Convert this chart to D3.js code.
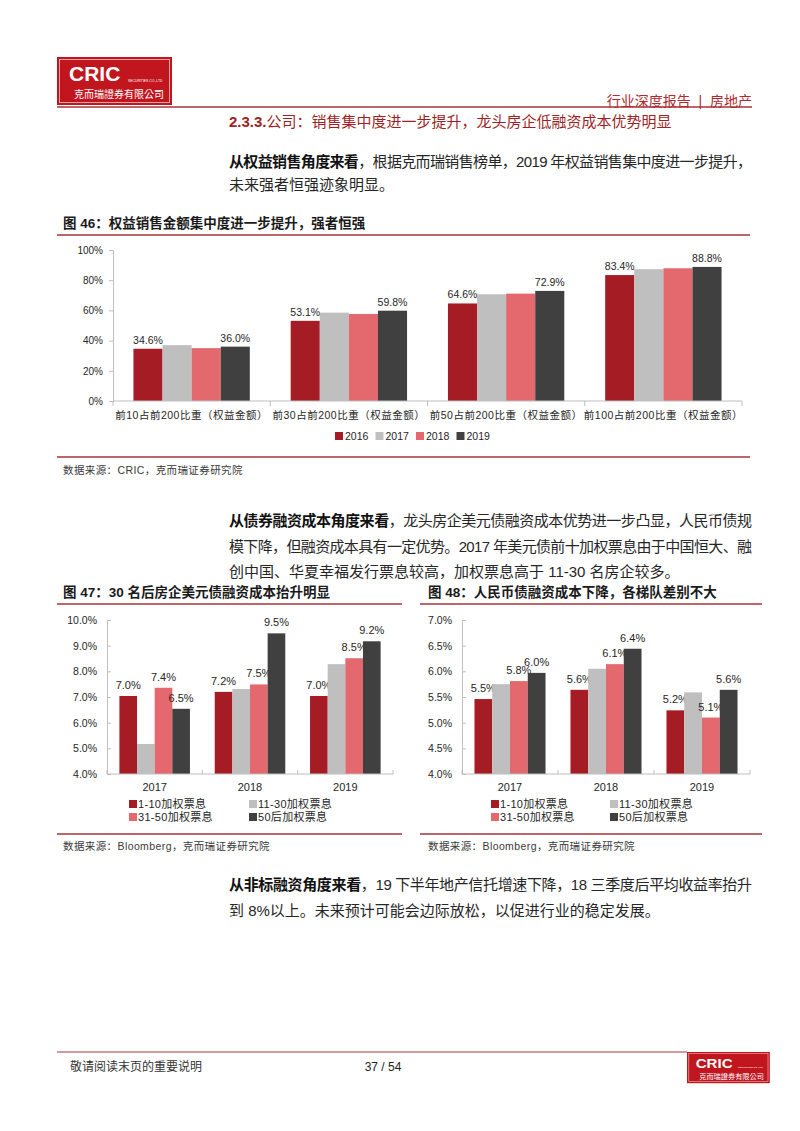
<!DOCTYPE html>
<html>
<head>
<meta charset="utf-8">
<script src="https://cdn.jsdelivr.net/npm/d3@7"></script>
<style>
  body { margin: 0; background: #fff; }
  svg { display: block; }
  text { font-family: "Liberation Sans", "Noto Sans CJK SC", sans-serif; }
</style>
</head>
<body>
<svg id="page" width="800" height="1131"></svg>
<script>
// ---- data: figure 46 ----
const cat46 = ["前10占前200比重（权益金额）", "前30占前200比重（权益金额）", "前50占前200比重（权益金额）", "前100占前200比重（权益金额）"];
const years46 = ["2016", "2017", "2018", "2019"];
const share2016 = [34.6, 53.1, 64.6, 83.4];
const share2017 = [37.0, 58.5, 70.7, 87.3];
const share2018 = [35.0, 57.6, 71.1, 87.9];
const share2019 = [36.0, 59.8, 72.9, 88.8];
const ticks46 = [0, 20, 40, 60, 80, 100];

// ---- data: figures 47 / 48 ----
const years47 = ["2017", "2018", "2019"];
const tiers = ["1-10加权票息", "11-30加权票息", "31-50加权票息", "50后加权票息"];
const usd1to10 = [7.04, 7.20, 7.04];
const usd11to30 = [5.17, 7.31, 8.28];
const usd31to50 = [7.36, 7.49, 8.51];
const usd50plus = [6.54, 9.48, 9.17];
const ticks47 = [4, 5, 6, 7, 8, 9, 10];

const cny1to10 = [5.46, 5.64, 5.24];
const cny11to30 = [5.75, 6.05, 5.59];
const cny31to50 = [5.81, 6.14, 5.10];
const cny50plus = [5.97, 6.44, 5.64];
const ticks48 = [4, 4.5, 5, 5.5, 6, 6.5, 7];

const colors = ["#a51c24", "#bfbfbf", "#e4696f", "#404040"];
const lineRed = "#a8343a";
const axisGray = "#bfbfbf";

const svg = d3.select("#page");

// logo box
function drawLogo(x, y, sx, sy) {
  const g = svg.append("g").attr("transform", `translate(${x},${y}) scale(${sx},${sy})`);
  g.append("rect").attr("width", 115).attr("height", 48).attr("fill", "#c2161f");
  g.append("rect").attr("x", 2.5).attr("y", 2.5).attr("width", 110).attr("height", 43)
    .attr("fill", "none").attr("stroke", "#f3c9cb").attr("stroke-width", 0.8);
  g.append("text").attr("x", 12).attr("y", 24).attr("fill", "#fff")
    .attr("font-size", 21).attr("font-weight", 700).text("CRIC");
  g.append("text").attr("x", 71).attr("y", 25).attr("fill", "#fff")
    .attr("font-size", 3.4).text("SECURITIES CO.,LTD");
  g.append("text").attr("x", 17).attr("y", 41).attr("fill", "#fff")
    .attr("font-size", 10).style("font-family", "'Noto Sans CJK TC', sans-serif").text("克而瑞證券有限公司");
}

function hline(x1, x2, y, color, w) {
  svg.append("line").attr("x1", x1).attr("x2", x2).attr("y1", y).attr("y2", y)
    .attr("stroke", color).attr("stroke-width", w);
}

// one line of body text, segments = [[text, bold], ...]
function bodyLine(x, y, segs, width) {
  const t = svg.append("text").attr("x", x).attr("y", y)
    .attr("font-size", 15).attr("fill", "#262626");
  segs.forEach(s => {
    t.append("tspan").attr("font-weight", s[1] ? 700 : 400).attr("fill", s[1] ? "#111" : "#262626").text(s[0]);
  });
  if (width) t.attr("textLength", width).attr("lengthAdjust", "spacing");
}

// header
drawLogo(57, 57, 1, 1);
hline(57, 752, 107, lineRed, 1.5);
svg.append("text").attr("x", 752).attr("y", 106).attr("text-anchor", "end")
  .attr("font-size", 14).attr("fill", "#b02a30").style("white-space", "pre")
  .text("行业深度报告  |  房地产");

const sec = svg.append("text").attr("x", 229).attr("y", 127).attr("font-size", 15).attr("fill", "#9e1f25");
sec.append("tspan").attr("font-weight", 700).text("2.3.3.");
sec.append("tspan").text("公司：销售集中度进一步提升，龙头房企低融资成本优势明显");

bodyLine(229, 167, [["从权益销售角度来看", true], ["，根据克而瑞销售榜单，2019 年权益销售集中度进一步提升，", false]], 523);
bodyLine(229, 190, [["未来强者恒强迹象明显。", false]]);

function figTitle(x, y, txt) {
  svg.append("text").attr("x", x).attr("y", y).attr("font-size", 13.5)
    .attr("font-weight", 700).attr("fill", "#1a1a1a").text(txt);
}
function source(x, y, txt) {
  svg.append("text").attr("x", x).attr("y", y).attr("font-size", 10.5)
    .attr("letter-spacing", 0.4).attr("fill", "#3a3a3a").text(txt);
}

// generic grouped bar chart
function barChart(c) {
  const g = svg.append("g");
  const x = d3.scaleBand().domain(c.cats).range([c.left, c.right]).paddingInner(0.26).paddingOuter(0.13);
  const xs = d3.scaleBand().domain(c.names).range([0, x.bandwidth()]);
  const y = d3.scaleLinear().domain(c.domain).range([c.bottom, c.top]);

  const ya = g.append("g").attr("transform", `translate(${c.left},0)`)
    .call(d3.axisLeft(y).tickValues(c.ticks).tickFormat(c.tickFmt)
      .tickSizeInner(c.tickIn).tickSizeOuter(0).tickPadding(c.tickPad));
  ya.select(".domain").attr("stroke", axisGray);
  ya.selectAll(".tick line").attr("stroke", axisGray);
  ya.selectAll(".tick text").attr("font-size", c.tickFont).attr("fill", "#262626")
    .style("font-family", "'Liberation Sans', sans-serif");

  c.series.forEach((vals, si) => {
    g.selectAll(null).data(vals).join("rect")
      .attr("x", (d, i) => x(c.cats[i]) + xs(c.names[si]))
      .attr("y", d => y(d))
      .attr("width", xs.bandwidth())
      .attr("height", d => y(c.domain[0]) - y(d))
      .attr("fill", colors[si]);
    if (c.labeled.includes(si)) {
      g.selectAll(null).data(vals).join("text")
        .attr("x", (d, i) => x(c.cats[i]) + xs(c.names[si]) + xs.bandwidth() / 2)
        .attr("y", d => y(d) - c.labelGap)
        .attr("text-anchor", "middle")
        .attr("font-size", c.labelFont).attr("fill", "#262626")
        .text(d => d3.format(".1f")(d) + "%");
    }
  });

  // x axis line and group separators
  g.append("line").attr("x1", c.left).attr("x2", c.right)
    .attr("y1", y(c.domain[0])).attr("y2", y(c.domain[0])).attr("stroke", axisGray);
  const seps = c.cats.map(k => x(k) - x.step() * x.paddingInner() / 2).concat([c.right]);
  g.selectAll(null).data(seps).join("line")
    .attr("x1", d => d).attr("x2", d => d)
    .attr("y1", y(c.domain[0])).attr("y2", y(c.domain[0]) + c.sepLen)
    .attr("stroke", axisGray);

  g.selectAll(null).data(c.cats).join("text")
    .attr("x", d => x(d) + x.bandwidth() / 2)
    .attr("y", c.catY)
    .attr("text-anchor", "middle")
    .attr("font-size", c.catFont).attr("letter-spacing", c.catSpacing).attr("fill", "#262626")
    .text(d => d);
}

// ---- figure 46 ----
figTitle(63, 228, "图 46：权益销售金额集中度进一步提升，强者恒强");
hline(57, 750, 235, lineRed, 1.5);
barChart({
  cats: cat46, names: years46,
  series: [share2016, share2017, share2018, share2019],
  labeled: [0, 3],
  left: 113, right: 742, top: 250, bottom: 401,
  domain: [0, 100], ticks: ticks46, tickFmt: d => d + "%",
  tickIn: 4, tickPad: 6, tickFont: 10,
  labelGap: 5, labelFont: 10.5,
  sepLen: 5, catY: 419, catFont: 10.5, catSpacing: 0.5
});
// legend 46
const leg46 = svg.append("g");
years46.forEach((n, i) => {
  const lx = 335 + i * 40.5;
  leg46.append("rect").attr("x", lx).attr("y", 432).attr("width", 8).attr("height", 8).attr("fill", colors[i]);
  leg46.append("text").attr("x", lx + 10).attr("y", 440).attr("font-size", 10.5).attr("fill", "#262626").text(n);
});
hline(57, 750, 457, lineRed, 1.5);
source(63, 474, "数据来源：CRIC，克而瑞证券研究院");

// paragraph 2
bodyLine(229, 526, [["从债券融资成本角度来看", true], ["，龙头房企美元债融资成本优势进一步凸显，人民币债规", false]], 523);
bodyLine(229, 552, [["模下降，但融资成本具有一定优势。2017 年美元债前十加权票息由于中国恒大、融", false]], 523);
bodyLine(229, 577, [["创中国、华夏幸福发行票息较高，加权票息高于 11-30 名房企较多。", false]]);

// small legend for 47/48
function tierLegend(x1, x2) {
  const pos = [[x1, 804], [x2, 804], [x1, 817], [x2, 817]];
  tiers.forEach((n, i) => {
    svg.append("rect").attr("x", pos[i][0]).attr("y", pos[i][1] - 4).attr("width", 8).attr("height", 8).attr("fill", colors[i]);
    svg.append("text").attr("x", pos[i][0] + 9).attr("y", pos[i][1] + 4)
      .attr("font-size", 11).attr("letter-spacing", 0.3).attr("fill", "#262626").text(n);
  });
}

// ---- figure 47 ----
figTitle(63, 597, "图 47：30 名后房企美元债融资成本抬升明显");
hline(57, 402, 604, lineRed, 1.5);
barChart({
  cats: years47, names: tiers,
  series: [usd1to10, usd11to30, usd31to50, usd50plus],
  labeled: [0, 2, 3],
  left: 107, right: 393, top: 620, bottom: 774,
  domain: [4, 10], ticks: ticks47, tickFmt: d => d3.format(".1f")(d) + "%",
  tickIn: -4, tickPad: 10, tickFont: 10.5,
  labelGap: 7, labelFont: 11,
  sepLen: -4, catY: 791, catFont: 11, catSpacing: 0
});
tierLegend(129, 249);
hline(57, 402, 834, lineRed, 1.5);
source(63, 850, "数据来源：Bloomberg，克而瑞证券研究院");

// ---- figure 48 ----
figTitle(428, 597, "图 48：人民币债融资成本下降，各梯队差别不大");
hline(420, 762, 604, lineRed, 1.5);
barChart({
  cats: years47, names: tiers,
  series: [cny1to10, cny11to30, cny31to50, cny50plus],
  labeled: [0, 2, 3],
  left: 462, right: 750, top: 620, bottom: 774,
  domain: [4, 7], ticks: ticks48, tickFmt: d => d3.format(".1f")(d) + "%",
  tickIn: -4, tickPad: 10, tickFont: 10.5,
  labelGap: 7, labelFont: 11,
  sepLen: -4, catY: 791, catFont: 11, catSpacing: 0
});
tierLegend(491, 610);
hline(420, 762, 834, lineRed, 1.5);
source(428, 850, "数据来源：Bloomberg，克而瑞证券研究院");

// paragraph 3
bodyLine(229, 890, [["从非标融资角度来看", true], ["，19 下半年地产信托增速下降，18 三季度后平均收益率抬升", false]], 523);
bodyLine(229, 916, [["到 8%以上。未来预计可能会边际放松，以促进行业的稳定发展。", false]]);

// footer
hline(57, 687, 1052, lineRed, 1.2);
svg.append("text").attr("x", 70).attr("y", 1071).attr("font-size", 12).attr("fill", "#333").text("敬请阅读末页的重要说明");
svg.append("text").attr("x", 383).attr("y", 1071).attr("text-anchor", "middle").attr("font-size", 12).attr("fill", "#222").text("37 / 54");
drawLogo(687, 1052, 0.72, 0.65);
</script>
</body>
</html>
